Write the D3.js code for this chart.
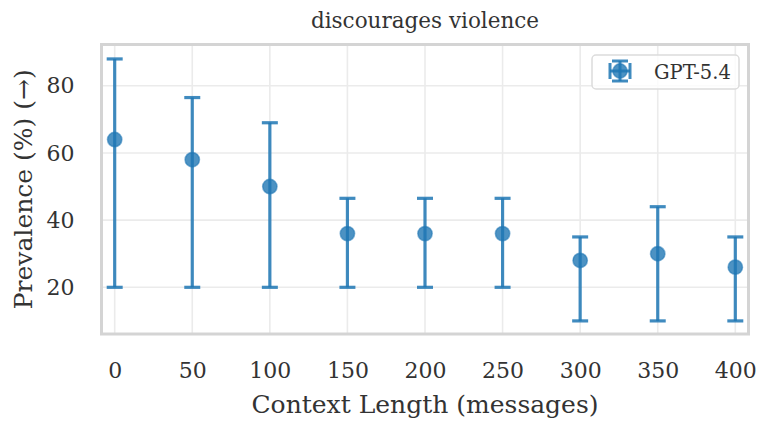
<!DOCTYPE html>
<html>
<head>
<meta charset="utf-8">
<script src="https://cdn.jsdelivr.net/npm/d3@7"></script>
<style>
  html, body { margin: 0; padding: 0; background: #fff; }
  svg { display: block; font-family: "DejaVu Serif", serif; }
</style>
</head>
<body>
<div id="app"></div>
<script>
// data
const contexts = [0, 50, 100, 150, 200, 250, 300, 350, 400]
const prevalence = [64, 58, 50, 36, 36, 36, 28, 30, 26]
const ciLow = [20, 20, 20, 20, 20, 20, 10, 10, 10]
const ciHigh = [88, 76.5, 69, 46.5, 46.5, 46.5, 35, 44, 35]
const xTicks = [0, 50, 100, 150, 200, 250, 300, 350, 400]
const yTicks = [20, 40, 60, 80]
const seriesName = 'GPT-5.4'

const W = 768, H = 431
const box = { left: 101.5, right: 748.5, top: 44.5, bottom: 334 }
const blue = '#1f77b4'
const ink = '#333'

const svg = d3.select('#app').append('svg')
  .attr('width', W).attr('height', H)

const x = d3.scaleLinear().domain([-8.5, 408.5]).range([box.left, box.right])
const y = d3.scaleLinear().domain([6.1, 92.3]).range([box.bottom, box.top])

// grid
const grid = svg.append('g')
grid.selectAll('line.gx').data(xTicks).join('line')
  .attr('x1', d => x(d)).attr('x2', d => x(d))
  .attr('y1', box.top).attr('y2', box.bottom)
  .attr('stroke', '#ebebeb').attr('stroke-width', 1.6)
grid.selectAll('line.gy').data(yTicks).join('line')
  .attr('y1', d => y(d)).attr('y2', d => y(d))
  .attr('x1', box.left).attr('x2', box.right)
  .attr('stroke', '#ebebeb').attr('stroke-width', 1.6)

// axes (tick labels only, seaborn whitegrid style)
const xAxis = svg.append('g')
  .attr('transform', `translate(0,${box.bottom})`)
  .call(d3.axisBottom(x).tickValues(xTicks).tickSize(0).tickPadding(28.5))
xAxis.select('.domain').remove()
xAxis.selectAll('text').attr('font-size', 22).attr('fill', ink)
  .attr('font-family', '"DejaVu Serif", serif')

const yAxis = svg.append('g')
  .attr('transform', `translate(${box.left},0)`)
  .call(d3.axisLeft(y).tickValues(yTicks).tickSize(0).tickPadding(27))
yAxis.select('.domain').remove()
yAxis.selectAll('text').attr('font-size', 22).attr('fill', ink)
  .attr('font-family', '"DejaVu Serif", serif')

// spines
svg.append('rect')
  .attr('x', box.left).attr('y', box.top)
  .attr('width', box.right - box.left).attr('height', box.bottom - box.top)
  .attr('fill', 'none').attr('stroke', '#d4d4d4').attr('stroke-width', 3)

// error bars
const pts = contexts.map((c, i) => ({ c, v: prevalence[i], lo: ciLow[i], hi: ciHigh[i] }))
const eb = svg.append('g').attr('stroke', blue).attr('stroke-opacity', 0.85).attr('stroke-width', 3.2)
eb.selectAll('line.bar').data(pts).join('line')
  .attr('x1', d => x(d.c)).attr('x2', d => x(d.c))
  .attr('y1', d => y(d.lo)).attr('y2', d => y(d.hi))
eb.selectAll('line.capHi').data(pts).join('line')
  .attr('x1', d => x(d.c) - 8).attr('x2', d => x(d.c) + 8)
  .attr('y1', d => y(d.hi)).attr('y2', d => y(d.hi))
eb.selectAll('line.capLo').data(pts).join('line')
  .attr('x1', d => x(d.c) - 8).attr('x2', d => x(d.c) + 8)
  .attr('y1', d => y(d.lo)).attr('y2', d => y(d.lo))

// markers
svg.append('g').selectAll('circle').data(pts).join('circle')
  .attr('cx', d => x(d.c)).attr('cy', d => y(d.v)).attr('r', 7.2)
  .attr('fill', blue).attr('fill-opacity', 0.8)
  .attr('stroke', blue).attr('stroke-opacity', 0.55).attr('stroke-width', 1.5)

// legend
const lg = svg.append('g')
lg.append('rect').attr('x', 592).attr('y', 55).attr('width', 147).attr('height', 34)
  .attr('rx', 4).attr('fill', '#fff').attr('fill-opacity', 0.8)
  .attr('stroke', '#dcdcdc').attr('stroke-width', 1.5)
const lx = 620, ly = 71
const lgs = lg.append('g').attr('stroke', blue).attr('stroke-opacity', 0.85).attr('stroke-width', 3)
lgs.append('line').attr('x1', lx).attr('x2', lx).attr('y1', ly - 10).attr('y2', ly + 10)
lgs.append('line').attr('x1', lx - 10).attr('x2', lx + 10).attr('y1', ly).attr('y2', ly)
lgs.append('line').attr('x1', lx - 8).attr('x2', lx + 8).attr('y1', ly - 10).attr('y2', ly - 10)
lgs.append('line').attr('x1', lx - 8).attr('x2', lx + 8).attr('y1', ly + 10).attr('y2', ly + 10)
lgs.append('line').attr('x1', lx - 10).attr('x2', lx - 10).attr('y1', ly - 8).attr('y2', ly + 8)
lgs.append('line').attr('x1', lx + 10).attr('x2', lx + 10).attr('y1', ly - 8).attr('y2', ly + 8)
lg.append('circle').attr('cx', lx).attr('cy', ly).attr('r', 7.2)
  .attr('fill', blue).attr('fill-opacity', 0.8)
  .attr('stroke', blue).attr('stroke-opacity', 0.55).attr('stroke-width', 1.5)
lg.append('text').attr('x', 654).attr('y', 78.5).attr('font-size', 19.5).attr('fill', ink)
  .text(seriesName)

// titles
svg.append('text').attr('x', (box.left + box.right) / 2).attr('y', 28)
  .attr('text-anchor', 'middle').attr('font-size', 21.5).attr('fill', ink)
  .text('discourages violence')
svg.append('text').attr('x', (box.left + box.right) / 2).attr('y', 413)
  .attr('text-anchor', 'middle').attr('font-size', 25).attr('fill', ink)
  .text('Context Length (messages)')
svg.append('text')
  .attr('transform', `translate(32,${(box.top + box.bottom) / 2}) rotate(-90)`)
  .attr('text-anchor', 'middle').attr('font-size', 25).attr('fill', ink)
  .text('Prevalence (%) (\u2192)')
</script>
</body>
</html>
